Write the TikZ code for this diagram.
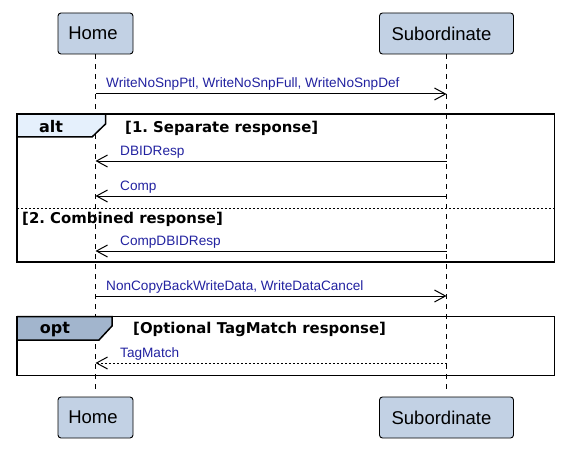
\documentclass[tikz,border=0pt]{standalone}
\usepackage{fontspec}
\setmainfont{Liberation Sans}
\newfontfamily\dvs{DejaVu Sans}
\usetikzlibrary{arrows.meta}
\frenchspacing
\definecolor{partfill}{HTML}{C2D1E4}
\definecolor{altfill}{HTML}{E5F0FC}
\definecolor{optfill}{HTML}{A2B5CD}
\definecolor{msgtext}{HTML}{2222A0}
\tikzset{
  x=1pt,y=-1pt,
  part/.style={draw=black, line width=0.9pt, fill=partfill, rounded corners=3pt, minimum height=41pt, inner sep=0pt, font=\fontsize{18.5}{20}\selectfont},
  lifeline/.style={draw=black, line width=0.9pt, dash pattern=on 5pt off 5pt},
  msg/.style={draw=black, line width=1pt, -{Straight Barb[length=11pt,width=12pt]}},
  reply/.style={msg, dash pattern=on 2pt off 2pt},
  msglabel/.style={anchor=base west, inner sep=0pt, text=msgtext, font=\fontsize{13.6}{15}\selectfont},
  guard/.style={anchor=base west, inner sep=0pt, font=\dvs\bfseries\fontsize{14.9}{16}\selectfont\frenchspacing},
  tablabel/.style={anchor=base, inner sep=0pt, font=\dvs\bfseries\fontsize{16}{18}\selectfont},
  framebox/.style={draw=black, line width=1.5pt},
  tab/.style={draw=black, line width=1.5pt, line join=miter},
}
\begin{document}
\begin{tikzpicture}
\useasboundingbox (0,0) rectangle (571,452);
% participants
\node[part, minimum width=75pt] (h1) at (95.5,33.5) {\kern-5pt Home};
\node[part, minimum width=134pt] (s1) at (446.5,33.5) {\kern-10pt Subordinate};
\node[part, minimum width=75pt] (h2) at (95.5,417.5) {\kern-5pt Home};
\node[part, minimum width=134pt] (s2) at (446.5,417.5) {\kern-10pt Subordinate};
% lifelines
\coordinate (hend) at (95.5,390);
\coordinate (send) at (446.5,390);
\draw[lifeline] (h1.south) -- (hend);
\draw[lifeline] (s1.south) -- (send);
% lifeline points
\coordinate (h-m1) at (95.5,94);   \coordinate (s-m1) at (446.5,94);
\coordinate (h-m2) at (95.5,161);  \coordinate (s-m2) at (446.5,161);
\coordinate (h-m3) at (95.5,196);  \coordinate (s-m3) at (446.5,196);
\coordinate (h-m4) at (95.5,251);  \coordinate (s-m4) at (446.5,251);
\coordinate (h-m5) at (95.5,296);  \coordinate (s-m5) at (446.5,296);
\coordinate (h-m6) at (95.5,363);  \coordinate (s-m6) at (446.5,363);
% message 1
\draw[msg] (h-m1) -- (s-m1);
\node[msglabel] (l1) at (106,88) {WriteNoSnpPtl, WriteNoSnpFull, WriteNoSnpDef};
% alt frame
\draw[tab, fill=altfill] (17,114) -- (105.5,114) -- (105.5,124) -- (92,137) -- (17,137);
\draw[framebox] (17,114) rectangle (554.5,262);
\node[tablabel] (altl) at (51,132) {alt};
\node[guard] (g1) at (125,132) {[1. Separate response]};
\draw[msg] (s-m2) -- (h-m2);
\node[msglabel] (l2) at (120,155) {DBIDResp};
\draw[msg] (s-m3) -- (h-m3);
\node[msglabel] (l3) at (120,190) {Comp};
\draw[line width=1pt, dash pattern=on 2pt off 2pt] (17,208) -- (554.5,208);
\node[guard] (g2) at (22,223) {[2. Combined response]};
\draw[msg] (s-m4) -- (h-m4);
\node[msglabel] (l4) at (120,245) {CompDBIDResp};
% message 5
\draw[msg] (h-m5) -- (s-m5);
\node[msglabel] (l5) at (106,290) {NonCopyBackWriteData, WriteDataCancel};
% opt frame
\draw[tab, fill=optfill] (17,316.5) -- (112,316.5) -- (112,326) -- (99,340) -- (17,340);
\draw[framebox] (17,316.5) rectangle (554.5,375.5);
\node[tablabel] (optl) at (55,333) {opt};
\node[guard] (g3) at (133,333) {[Optional TagMatch response]};
\draw[reply] (s-m6) -- (h-m6);
\node[msglabel] (l6) at (120,357) {TagMatch};
\end{tikzpicture}
\end{document}
